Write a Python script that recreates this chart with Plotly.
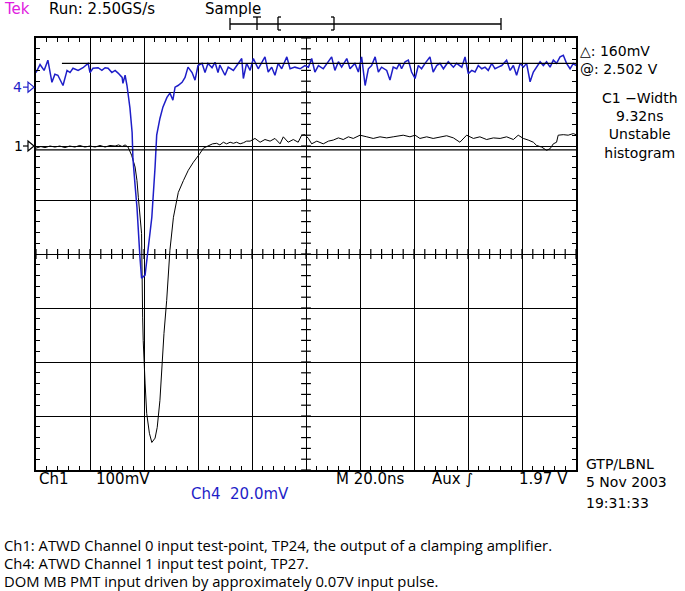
import plotly.graph_objects as go
import numpy as np

# ---------------- data (time in ns, level in screen divisions) ----------------
ch4_samples = [(-100.0,3.36),(-98.5,3.51),(-97.0,3.40),(-95.6,3.59),(-94.1,3.18),(-93.0,3.33),(-91.9,3.31),
 (-90.0,3.12),(-88.5,3.40),(-87.4,3.36),(-86.3,3.44),(-84.4,3.40),(-82.6,3.45),(-80.7,3.53),(-80.0,3.36),
 (-78.9,3.44),(-77.0,3.45),(-75.6,3.40),(-74.4,3.45),(-73.3,3.44),(-71.9,3.36),(-70.7,3.40),(-69.6,3.35),
 (-68.1,3.27),(-67.8,3.16),(-67.0,3.31),(-66.3,3.12),(-65.9,2.98),(-65.2,2.70),(-64.4,2.25),(-64.1,1.77),
 (-63.3,1.27),(-62.6,0.86),(-61.5,-0.06),(-60.9,-0.45),(-59.6,-0.39),(-58.5,0.07),(-57.1,0.68),(-55.9,1.61),
 (-55.3,2.20),(-54.1,2.51),(-53.0,2.72),(-51.5,2.90),(-50.4,2.98),(-49.3,2.85),(-48.5,3.09),(-47.4,3.12),
 (-45.9,3.18),(-44.8,3.27),(-43.7,3.46),(-42.2,3.36),(-41.1,3.22),(-40.0,3.49),(-38.5,3.53),(-37.4,3.36),
 (-36.3,3.53),(-34.8,3.45),(-33.7,3.55),(-32.6,3.36),(-31.9,3.50),(-30.0,3.31),(-28.8,3.46),(-26.9,3.40),
 (-25.1,3.53),(-23.8,3.62),(-23.2,3.25),(-22.0,3.53),(-20.7,3.40),(-19.5,3.62),(-17.7,3.43),(-16.4,3.56),
 (-15.2,3.65),(-14.0,3.37),(-12.7,3.46),(-11.5,3.31),(-10.3,3.53),(-9.0,3.43),(-7.1,3.65),(-5.9,3.43),
 (-4.1,3.46),(-2.2,3.43),(-0.4,3.49),(0.9,3.46),(2.1,3.62),(3.3,3.37),(4.6,3.49),(6.4,3.43),(8.3,3.56),
 (9.5,3.65),(10.7,3.40),(12.0,3.56),(13.2,3.46),(15.1,3.62),(16.3,3.43),(18.1,3.53),(19.4,3.37),(20.6,3.65),
 (21.9,3.12),(23.1,3.43),(24.3,3.49),(25.6,3.65),(26.8,3.37),(28.0,3.46),(29.9,3.40),(31.1,3.22),(32.3,3.46),
 (33.6,3.43),(34.6,3.53),(35.4,3.43),(36.7,3.56),(37.9,3.59),(39.1,3.37),(40.4,3.25),(41.6,3.49),(42.8,3.43),
 (44.1,3.53),(45.9,3.65),(47.1,3.37),(48.4,3.49),(49.6,3.53),(50.9,3.43),(52.7,3.56),(54.6,3.46),(55.8,3.53),
 (57.7,3.46),(58.9,3.65),(60.1,3.34),(61.4,3.40),(62.6,3.37),(63.8,3.49),(65.1,3.43),(66.3,3.46),(67.5,3.40),
 (68.8,3.53),(70.0,3.43),(71.2,3.46),(72.5,3.49),(74.3,3.59),(75.6,3.40),(76.8,3.49),(78.0,3.31),(79.3,3.53),
 (80.5,3.46),(81.7,3.53),(83.0,3.19),(84.2,3.37),(85.4,3.46),(86.7,3.56),(87.9,3.49),(89.1,3.56),(90.4,3.46),
 (91.6,3.59),(92.8,3.53),(94.1,3.65),(95.3,3.68),(96.5,3.53),(97.8,3.43),(99.0,3.53),(100.0,3.49)]

ch1_samples = [(-100.0,1.96),(-98.2,1.99),(-96.7,1.97),(-94.8,2.00),(-93.0,1.98),(-91.2,2.00),(-89.3,1.97),
 (-87.5,2.00),(-85.6,1.98),(-83.8,2.01),(-81.9,1.98),(-80.0,2.00),(-78.1,1.98),(-76.3,2.01),(-74.4,1.98),
 (-72.6,2.01),(-70.7,2.00),(-69.4,2.02),(-68.1,1.99),(-67.0,2.02),(-65.9,1.98),(-64.6,1.83),(-63.3,1.61),
 (-62.6,1.36),(-62.1,1.05),(-61.5,0.75),(-60.9,0.38),(-60.5,-1.17),(-60.3,-1.60),(-59.6,-2.39),(-59.0,-2.95),
 (-58.0,-3.32),(-57.1,-3.49),(-55.9,-3.41),(-55.1,-3.21),(-54.1,-2.71),(-53.4,-2.10),(-52.6,-1.47),
 (-51.6,-0.86),(-51.0,-0.43),(-50.4,0.07),(-49.1,0.68),(-47.3,1.14),(-45.4,1.36),(-43.6,1.55),(-41.7,1.70),
 (-40.5,1.77),(-39.3,1.86),(-38.0,1.96),(-36.2,2.01),(-34.6,2.04),(-33.1,2.05),(-31.9,2.02),(-30.6,2.07),
 (-29.4,2.04),(-28.1,2.07),(-26.9,2.05),(-25.7,2.07),(-24.4,2.04),(-23.2,2.06),(-22.0,2.09),(-20.7,2.09),
 (-18.9,2.14),(-17.0,2.07),(-15.2,2.12),(-13.3,2.09),(-11.5,2.14),(-9.6,2.04),(-8.4,2.17),(-6.6,2.07),
 (-4.7,2.12),(-2.9,2.07),(-1.6,2.20),(-0.4,2.21),(0.9,2.14),(2.1,2.04),(4.0,2.09),(6.4,2.04),(8.3,2.09),
 (10.1,2.11),(12.0,2.15),(13.8,2.12),(15.7,2.17),(17.5,2.14),(20.0,2.20),(22.5,2.17),(24.9,2.14),(27.4,2.17),
 (29.9,2.15),(32.3,2.17),(34.8,2.19),(36.0,2.20),(38.5,2.17),(40.4,2.20),(42.2,2.14),(44.7,2.17),(47.1,2.14),
 (49.6,2.17),(52.1,2.19),(54.6,2.15),(57.0,2.07),(59.5,2.20),(62.0,2.14),(64.4,2.17),(66.9,2.12),(69.4,2.15),
 (71.9,2.14),(74.3,2.17),(76.8,2.12),(78.6,2.20),(80.5,2.14),(82.3,2.11),(84.2,2.07),(85.4,2.01),(87.3,1.98),
 (89.1,1.92),(90.4,1.95),(91.6,2.04),(92.8,2.07),(93.4,2.20),(95.3,2.21),(97.1,2.20),(99.0,2.23),(100.0,2.21)]

ch4_time = [p[0] for p in ch4_samples]
ch4_level = [p[1] for p in ch4_samples]
ch1_time = [p[0] for p in ch1_samples]
ch1_level = [p[1] for p in ch1_samples]

cursor_levels = [3.53, 1.93]          # the two horizontal cursors (divisions)
cursor_starts = [-90.4, -100.0]

ch1_marker_level = 2.0
ch4_marker_level = 3.09

# ---------------- layout helpers ----------------
W, H = 685, 591
L, R, T, B = 36, 576, 38, 470


def px(x, y):
    return (x - L) / (R - L), (B - y) / (B - T)


BLUE = "#1e1ec8"
SCOPE_FONT = "DejaVu Sans"

fig = go.Figure()

# center graticule ticks
tx = np.arange(-100, 100.01, 4)
fig.add_trace(go.Scatter(x=tx, y=np.zeros_like(tx), mode="markers", hoverinfo="skip",
                         marker=dict(symbol="line-ns", size=7, line=dict(color="black", width=1.2))))
ty = np.arange(-4, 4.001, 0.2)
fig.add_trace(go.Scatter(x=np.zeros_like(ty), y=ty, mode="markers", hoverinfo="skip",
                         marker=dict(symbol="line-ew", size=7, line=dict(color="black", width=1.2))))

fig.add_trace(go.Scatter(x=ch1_time, y=ch1_level, mode="lines", name="Ch1",
                         line=dict(color="black", width=1)))
fig.add_trace(go.Scatter(x=ch4_time, y=ch4_level, mode="lines", name="Ch4",
                         line=dict(color=BLUE, width=1.5)))

shapes = []
for lv, st in zip(cursor_levels, cursor_starts):
    shapes.append(dict(type="line", xref="x", yref="y", x0=st, x1=100, y0=lv, y1=lv,
                       line=dict(color="black", width=1.3)))


def seg(x0, y0, x1, y1, color="black", w=1.3):
    a = px(x0, y0)
    b = px(x1, y1)
    shapes.append(dict(type="line", xref="paper", yref="paper", x0=a[0], y0=a[1], x1=b[0], y1=b[1],
                       line=dict(color=color, width=w)))


# record-position bar on top
seg(230, 24, 501, 24)
seg(230, 18, 230, 30)
seg(501, 18, 501, 30)
seg(253, 17, 261, 17)
seg(257, 17, 257, 30)
seg(278, 17, 278, 30); seg(278, 17, 281, 17); seg(278, 30, 281, 30)
seg(334, 17, 334, 30); seg(331, 17, 334, 17); seg(331, 30, 334, 30)


def marker_arrow(yp, color):
    seg(23, yp, 28, yp, color, 1.2)
    p1 = px(28, yp - 5); p2 = px(34, yp); p3 = px(28, yp + 5)
    shapes.append(dict(type="path", xref="paper", yref="paper",
                       path=f"M {p1[0]} {p1[1]} L {p2[0]} {p2[1]} L {p3[0]} {p3[1]} Z",
                       line=dict(color=color, width=1.2)))


marker_arrow(B - (ch4_marker_level + 4) * 54, BLUE)
marker_arrow(B - (ch1_marker_level + 4) * 54, "black")

annotations = []


def text(s, x, y, color="black", size=14, anchor="left", font=SCOPE_FONT, align="left"):
    xx, yy = px(x, y)
    annotations.append(dict(text=s, x=xx, y=yy, xref="paper", yref="paper", showarrow=False,
                            xanchor=anchor, yanchor="middle", align=align,
                            font=dict(family=font, size=size, color=color)))


text("Tek", 2, 9, color="#e020e0", size=15)
text("Run: 2.50GS/s", 47, 9, size=15)
text("Sample", 203, 9, size=15)
text("4", 11, B - (ch4_marker_level + 4) * 54, color=BLUE, size=14)
text("1", 12, B - (ch1_marker_level + 4) * 54, size=14)
text("△: 160mV<br>@: 2.502 V", 578, 60, size=14)
text("C1 −Width<br>9.32ns<br>Unstable<br>histogram", 640, 125.5, size=14, anchor="center", align="center")
text("Ch1", 37, 479, size=15)
text("100mV", 94, 479, size=15)
text("M 20.0ns", 334, 479, size=15)
text("Aux ∫", 430, 479, size=15)
text("1.97 V", 517, 479, size=15)
text("Ch4  20.0mV", 189, 494, color=BLUE, size=15)
text("GTP/LBNL<br>5 Nov 2003", 584, 472.5, size=14)
text("19:31:33", 584, 503, size=14)

CAP = "Open Sans"
text("Ch1: ATWD Channel 0 input test-point, TP24, the output of a clamping amplifier.", 2, 545, size=14.8, font=CAP)
text("Ch4: ATWD Channel 1 input test point, TP27.", 2, 563, size=14.8, font=CAP)
text("DOM MB PMT input driven by approximately 0.07V input pulse.", 2, 581, size=14.8, font=CAP)

axis_common = dict(showticklabels=False, showgrid=True, gridcolor="black", gridwidth=1.3,
                   zeroline=False, showline=True, linecolor="black", linewidth=1.5, mirror="allticks",
                   ticks="inside", ticklen=5, tickcolor="black", tickwidth=1.2, fixedrange=True)

fig.update_layout(
    width=W, height=H, margin=dict(l=L, r=W - R, t=T, b=H - B),
    paper_bgcolor="white", plot_bgcolor="white", showlegend=False,
    xaxis=dict(range=[-100, 100], dtick=20, tick0=0,
               minor=dict(ticks="inside", dtick=4, ticklen=4, tickcolor="black", showgrid=False),
               **axis_common),
    yaxis=dict(range=[-4, 4], dtick=1, tick0=0,
               minor=dict(ticks="inside", dtick=0.2, ticklen=4, tickcolor="black", showgrid=False),
               **axis_common),
    shapes=shapes, annotations=annotations,
)

fig.write_html("out.html")
